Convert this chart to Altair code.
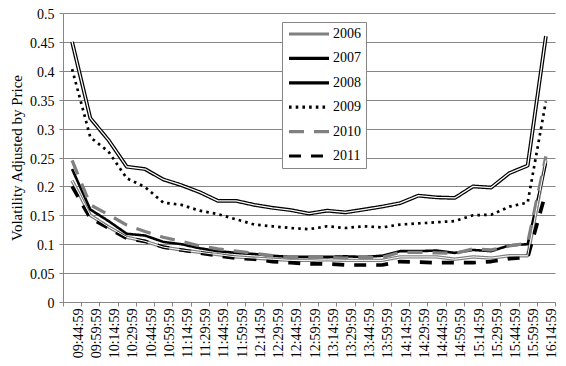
import altair as alt
import pandas as pd

FONT = "Liberation Serif, Times New Roman, serif"
GRAY = "#868686"

times = ["09:44:59", "09:59:59", "10:14:59", "10:29:59", "10:44:59", "10:59:59",
         "11:14:59", "11:29:59", "11:44:59", "11:59:59", "12:14:59", "12:29:59",
         "12:44:59", "12:59:59", "13:14:59", "13:29:59", "13:44:59", "13:59:59",
         "14:14:59", "14:29:59", "14:44:59", "14:59:59", "15:14:59", "15:29:59",
         "15:44:59", "15:59:59", "16:14:59"]

years = ["2006", "2007", "2008", "2009", "2010", "2011"]

v2006 = [0.210, 0.150, 0.130, 0.112, 0.105, 0.095, 0.090, 0.086, 0.082, 0.078,
         0.076, 0.074, 0.072, 0.072, 0.073, 0.072, 0.072, 0.072, 0.078, 0.078,
         0.078, 0.074, 0.078, 0.076, 0.080, 0.080, 0.245]
v2007 = [0.230, 0.160, 0.140, 0.118, 0.115, 0.104, 0.100, 0.093, 0.088, 0.085,
         0.083, 0.080, 0.078, 0.078, 0.078, 0.079, 0.078, 0.080, 0.088, 0.088,
         0.089, 0.085, 0.090, 0.088, 0.098, 0.100, 0.240]
v2008 = [0.450, 0.318, 0.280, 0.234, 0.230, 0.212, 0.202, 0.190, 0.175, 0.175,
         0.168, 0.163, 0.159, 0.153, 0.158, 0.155, 0.160, 0.165, 0.171, 0.184,
         0.181, 0.180, 0.200, 0.198, 0.223, 0.236, 0.460]
v2009 = [0.403, 0.285, 0.260, 0.214, 0.199, 0.172, 0.168, 0.158, 0.152, 0.143,
         0.134, 0.131, 0.128, 0.126, 0.131, 0.128, 0.131, 0.129, 0.134, 0.136,
         0.138, 0.140, 0.150, 0.151, 0.165, 0.172, 0.347]
v2010 = [0.245, 0.168, 0.151, 0.133, 0.122, 0.112, 0.105, 0.097, 0.092, 0.088,
         0.084, 0.080, 0.077, 0.077, 0.077, 0.076, 0.077, 0.077, 0.086, 0.086,
         0.085, 0.084, 0.092, 0.090, 0.097, 0.102, 0.252]
v2011 = [0.200, 0.145, 0.128, 0.110, 0.105, 0.095, 0.090, 0.085, 0.080, 0.076,
         0.074, 0.070, 0.068, 0.066, 0.066, 0.064, 0.064, 0.064, 0.070, 0.069,
         0.068, 0.068, 0.068, 0.070, 0.075, 0.077, 0.190]

series = [v2006, v2007, v2008, v2009, v2010, v2011]
widths = [3.4, 2.6, 3.8, 2.7, 3.3, 3.7]
colors = ["#808080", "black", "black", "black", "#808080", "black"]
dashes = [[1, 0], [1, 0], [1, 0], [2.6, 4.1], [15, 10], [12, 10]]

rows = []
for yr, vals, w in zip(years, series, widths):
    for t, v in zip(times, vals):
        rows.append({"time": t, "year": yr, "value": v, "w": w})
df = pd.DataFrame(rows)

inner_years = ["2006", "2008"]
inner_w = {"2006": 1.0, "2008": 1.3}
df_inner = df[df["year"].isin(inner_years)].copy()
df_inner["iw"] = df_inner["year"].map(inner_w)

x_enc = alt.X(
    "time:O", sort=times, bandPosition=0.5,
    scale=alt.Scale(type="band", paddingInner=0, paddingOuter=0),
    axis=alt.Axis(title=None, labelAngle=270, labelFont=FONT, labelFontSize=14,
                  labelColor="black", tickBand="extent", tickSize=4,
                  tickColor=GRAY, domainColor=GRAY, labelPadding=2, grid=False,
                  labelAlign="right", labelBaseline="middle", labelOffset=6),
)
y_enc = alt.Y(
    "value:Q",
    scale=alt.Scale(domain=[0, 0.5], nice=False, zero=True),
    axis=alt.Axis(values=[0, 0.05, 0.1, 0.15, 0.2, 0.25, 0.3, 0.35, 0.4, 0.45, 0.5],
                  format=".2~f", title="Volatility Adjusted by Price",
                  titleFont=FONT, titleFontSize=15, titleFontWeight="normal",
                  titleColor="black", labelFont=FONT, labelFontSize=14,
                  labelColor="black", grid=True, gridColor=GRAY, gridWidth=1,
                  tickSize=4, tickColor=GRAY, domainColor=GRAY,
                  labelPadding=5, titlePadding=5, labelOffset=1.5),
)

legend = alt.Legend(
    title=None, orient="none", legendX=219, legendY=9,
    symbolType="stroke", symbolSize=1600, symbolStrokeWidth=3.2,
    clipHeight=14, rowPadding=10.4, padding=5, labelOffset=2,
    labelFont=FONT, labelFontSize=14, labelColor="black",
    strokeColor=GRAY, fillColor="white",
)

lines = alt.Chart(df).mark_line(strokeJoin="round").encode(
    x=x_enc, y=y_enc,
    color=alt.Color("year:N", scale=alt.Scale(domain=years, range=colors), legend=legend),
    strokeDash=alt.StrokeDash("year:N", scale=alt.Scale(domain=years, range=dashes), legend=legend),
    strokeWidth=alt.StrokeWidth("w:Q", scale=None, legend=None),
)

inner = alt.Chart(df_inner).mark_line(color="white", strokeJoin="round").encode(
    x=x_enc, y=y_enc,
    detail="year:N",
    strokeWidth=alt.StrokeWidth("iw:Q", scale=None, legend=None),
)

chart = alt.layer(lines, inner).properties(
    width=492, height=289,
    autosize=alt.AutoSizeParams(type="none"),
    padding={"left": 55, "top": 5, "right": 3, "bottom": 56},
).configure_view(strokeWidth=0)

chart.save("out.html", embed_options={"renderer": "svg", "actions": False})
